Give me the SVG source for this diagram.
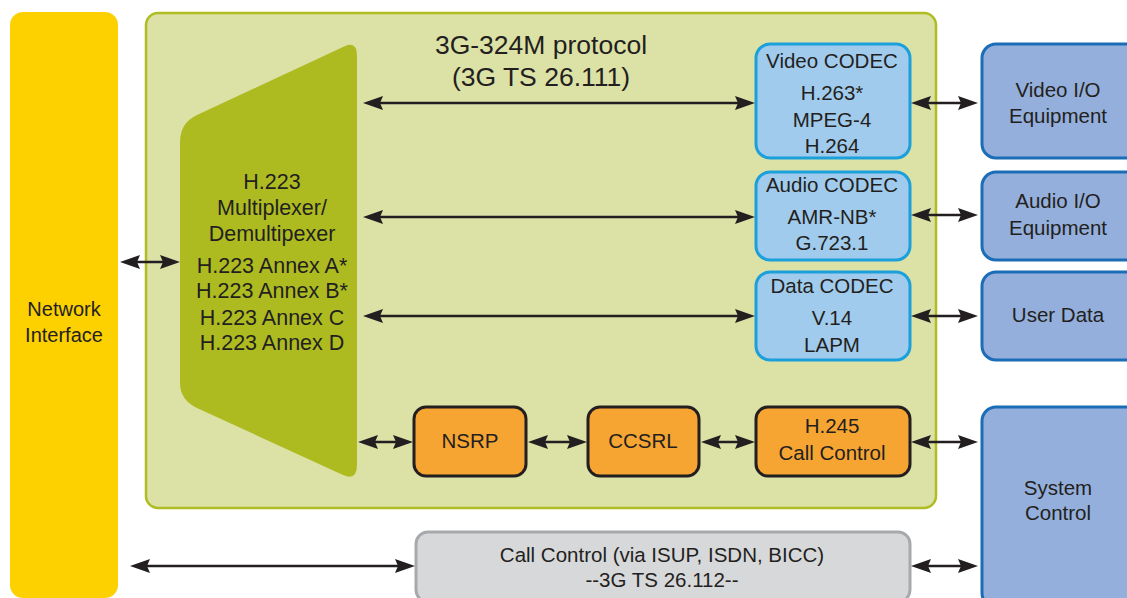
<svg xmlns="http://www.w3.org/2000/svg" width="1127" height="598" viewBox="0 0 1127 598">
  <defs>
    <marker id="head" viewBox="0 0 20 14" refX="10" refY="7" markerWidth="20" markerHeight="14" markerUnits="userSpaceOnUse" orient="auto-start-reverse">
      <path d="M0,0 L20,7 L0,14 L3,7 Z" fill="#231F20"/>
    </marker>
  </defs>
  <style>
    text { font-family: "Liberation Sans", Arial, sans-serif; fill: #231F20; text-anchor: middle; }
    .t20 { font-size: 20px; }
    .mux { font-size: 21.5px; }
    .t19 { font-size: 20.5px; }
    .title { font-size: 26.5px; }
    .codec { fill: #A1CBEC; stroke: #1CA0DC; stroke-width: 3; }
    .io { fill: #94AFDB; stroke: #1A6DB6; stroke-width: 3; }
    .orange { fill: #F7A532; stroke: #231F20; stroke-width: 3; }
    .conn line { stroke: #231F20; stroke-width: 2.6; marker-start: url(#head); marker-end: url(#head); }
  </style>

  <rect width="1127" height="598" fill="#FFFFFF"/>

  <!-- Network interface column -->
  <g id="network-interface">
    <rect x="10" y="12" width="108" height="586" rx="13" fill="#FDD000"/>
    <text class="t20" x="64" y="316">Network</text>
    <text class="t20" x="64" y="342">Interface</text>
  </g>

  <!-- 3G-324M protocol stack panel -->
  <g id="protocol-panel">
    <rect x="146" y="13" width="790" height="495" rx="12" fill="#DCE1A6" stroke="#AEBD22" stroke-width="2.5"/>
    <text class="title" x="541" y="54">3G-324M protocol</text>
    <text class="title" x="541" y="86">(3G TS 26.111)</text>
  </g>

  <!-- H.223 multiplexer -->
  <g id="mux">
    <path d="M357,56 Q357,40 343,47 L197,115 Q180,123 180,142 L180,383 Q180,400 197,408 L343,475 Q357,481 357,465 Z" fill="#AEBB20"/>
    <text class="mux" x="272" y="189">H.223</text>
    <text class="mux" x="272" y="215">Multiplexer/</text>
    <text class="mux" x="272" y="241">Demultipexer</text>
    <text class="mux" x="272" y="273">H.223 Annex A*</text>
    <text class="mux" x="272" y="298">H.223 Annex B*</text>
    <text class="mux" x="272" y="325">H.223 Annex C</text>
    <text class="mux" x="272" y="350">H.223 Annex D</text>
  </g>

  <!-- Codecs -->
  <g id="video-codec">
    <rect class="codec" x="756" y="44" width="154" height="114" rx="14"/>
    <text class="t19" x="832" y="68">Video CODEC</text>
    <text class="t19" x="832" y="100">H.263*</text>
    <text class="t19" x="832" y="127">MPEG-4</text>
    <text class="t19" x="832" y="153">H.264</text>
  </g>
  <g id="audio-codec">
    <rect class="codec" x="756" y="172" width="154" height="88" rx="14"/>
    <text class="t19" x="832" y="192">Audio CODEC</text>
    <text class="t19" x="832" y="224">AMR-NB*</text>
    <text class="t19" x="832" y="250">G.723.1</text>
  </g>
  <g id="data-codec">
    <rect class="codec" x="756" y="272" width="154" height="88" rx="14"/>
    <text class="t19" x="832" y="293">Data CODEC</text>
    <text class="t19" x="832" y="325">V.14</text>
    <text class="t19" x="832" y="352">LAPM</text>
  </g>

  <!-- Control layers -->
  <g id="nsrp">
    <rect class="orange" x="414" y="407" width="112" height="69" rx="12"/>
    <text class="t19" x="470" y="448">NSRP</text>
  </g>
  <g id="ccsrl">
    <rect class="orange" x="588" y="407" width="111" height="69" rx="12"/>
    <text class="t19" x="643" y="448">CCSRL</text>
  </g>
  <g id="h245">
    <rect class="orange" x="756" y="407" width="154" height="69" rx="12"/>
    <text class="t19" x="832" y="433">H.245</text>
    <text class="t19" x="832" y="460">Call Control</text>
  </g>

  <!-- Out-of-band call control -->
  <g id="call-control">
    <rect x="416" y="532" width="494" height="70" rx="12" fill="#D7D8DA" stroke="#A7A9AC" stroke-width="3"/>
    <text class="t19" x="662" y="562">Call Control (via ISUP, ISDN, BICC)</text>
    <text class="t19" x="662" y="587">--3G TS 26.112--</text>
  </g>

  <!-- Terminal equipment -->
  <g id="video-io">
    <rect class="io" x="982" y="44" width="160" height="114" rx="14"/>
    <text class="t19" x="1058" y="97">Video I/O</text>
    <text class="t19" x="1058" y="123">Equipment</text>
  </g>
  <g id="audio-io">
    <rect class="io" x="982" y="172" width="160" height="88" rx="14"/>
    <text class="t19" x="1058" y="208">Audio I/O</text>
    <text class="t19" x="1058" y="235">Equipment</text>
  </g>
  <g id="user-data">
    <rect class="io" x="982" y="272" width="160" height="88" rx="14"/>
    <text class="t19" x="1058" y="322">User Data</text>
  </g>
  <g id="system-control">
    <rect class="io" x="982" y="407" width="160" height="200" rx="14"/>
    <text class="t19" x="1058" y="495">System</text>
    <text class="t19" x="1058" y="520">Control</text>
  </g>

  <!-- Connectors: every link is bidirectional -->
  <g id="connectors" class="conn">
    <line x1="130" y1="262" x2="170" y2="262"/>
    <line x1="373" y1="103" x2="745" y2="103"/>
    <line x1="373" y1="217" x2="745" y2="217"/>
    <line x1="373" y1="316" x2="745" y2="316"/>
    <line x1="368" y1="442" x2="403" y2="442"/>
    <line x1="538" y1="442" x2="577" y2="442"/>
    <line x1="711" y1="442" x2="745" y2="442"/>
    <line x1="921" y1="103" x2="968" y2="103"/>
    <line x1="921" y1="215" x2="968" y2="215"/>
    <line x1="921" y1="316" x2="968" y2="316"/>
    <line x1="921" y1="442" x2="968" y2="442"/>
    <line x1="140" y1="566" x2="405" y2="566"/>
    <line x1="921" y1="566" x2="968" y2="566"/>
  </g>
</svg>
